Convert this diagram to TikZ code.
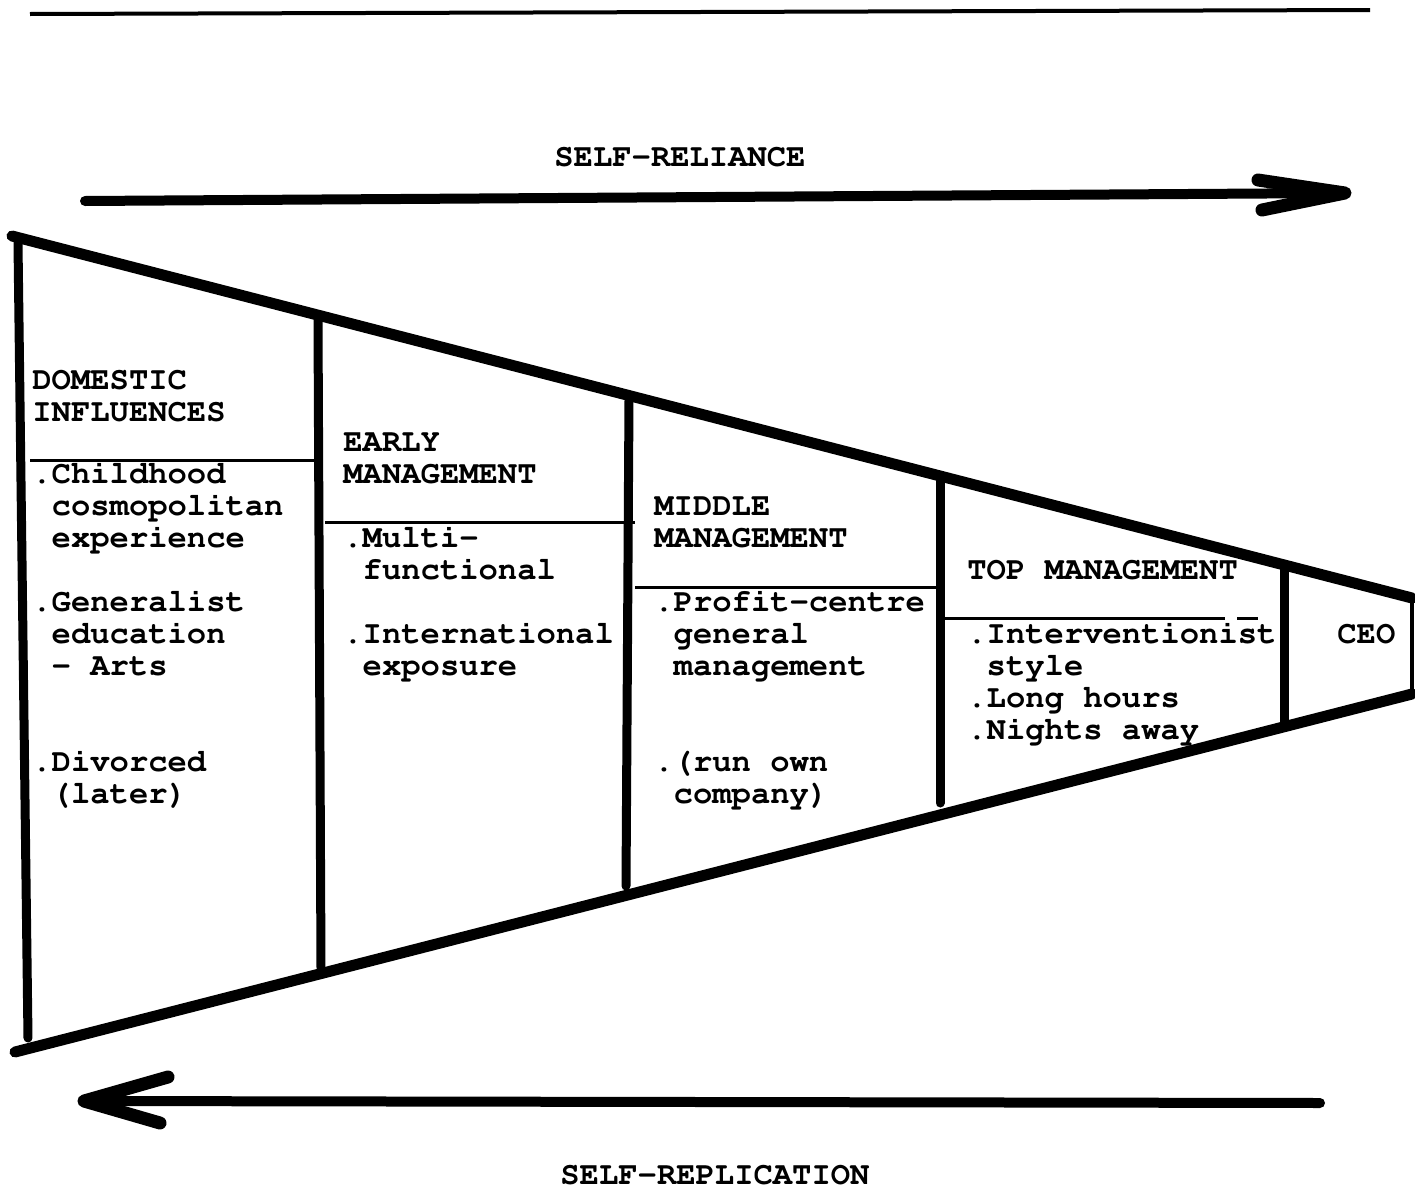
\documentclass[tikz,border=0pt]{standalone}
\usepackage[T1,TU]{fontenc}
\newcommand{\cour}{\fontencoding{T1}\fontfamily{pcr}\fontseries{b}\fontshape{n}}
\tikzset{
  txt/.style={anchor=base west, inner sep=0pt, font=\cour\fontsize{16.1}{16}\selectfont},
  edge/.style={line width=5.5pt, line cap=round, line join=round},
  divider/.style={line width=4.5pt, line cap=round},
  rule/.style={line width=1.5pt},
  shaft/.style={line width=5pt, line cap=round},
  barb/.style={line width=6.5pt, line cap=round, line join=round}
}
\newcommand{\ind}{\hphantom{.}}
\begin{document}
\begin{tikzpicture}[x=0.5pt, y=-0.5pt]
\useasboundingbox (0,0) rectangle (1415,1189);
% top rule
\draw[line width=2pt] (30,14) -- (1370,10);
% top arrow
\coordinate (ta) at (85,201);
\coordinate (tb) at (1345,193);
\coordinate (tu) at (1258,180);
\coordinate (tl) at (1262,210);
\draw[shaft] (ta) -- (tb);
\draw[barb] (tu) -- (tb) -- (tl);
% bottom arrow
\coordinate (ba) at (1320,1103);
\coordinate (bb) at (84,1101);
\coordinate (bu) at (168,1077);
\coordinate (bl) at (160,1123);
\draw[shaft] (ba) -- (bb);
\draw[barb] (bu) -- (bb) -- (bl);
% trapezoid
\coordinate (tl0) at (12,236);
\coordinate (tr0) at (1412,598);
\coordinate (bl0) at (15,1052);
\coordinate (br0) at (1412,694);
\draw[edge] (tl0) -- (tr0);
\draw[edge] (bl0) -- (br0);
\draw[divider] (18,243) -- (28,1038);
\draw[line width=2pt] (1412,598) -- (1412,694);
% dividers
\draw[divider] (318,320) -- (321,968);
\draw[divider] (629,400) -- (626,886);
\draw[divider] (940,481) -- (940,803);
\draw[divider] (1284,566) -- (1284,723);
% thin rules
\draw[rule] (30,460) -- (323,460);
\draw[rule] (325,522) -- (635,522);
\draw[rule] (635,587) -- (936,587);
\draw[rule] (945,618) -- (1225,618);
\draw[rule] (1237,618) -- (1258,618);
% labels
\node[txt] (sr) at (554,166) {SELF-RELIANCE};
\node[txt] (srp) at (560,1184) {SELF-REPLICATION};
% domestic
\node[txt] (d1) at (32,389) {DOMESTIC};
\node[txt] (d2) at (32,421) {INFLUENCES};
\node[txt] (d3) at (32,483) {.Childhood};
\node[txt] (d4) at (32,515) {\ind cosmopolitan};
\node[txt] (d5) at (32,547) {\ind experience};
\node[txt] (d6) at (32,611) {.Generalist};
\node[txt] (d7) at (32,643) {\ind education};
\node[txt] (d8) at (32,675) {\ind - Arts};
\node[txt] (d9) at (32,771) {.Divorced};
\node[txt] (d10) at (32,803) {\ind (later)};
% early
\node[txt] (e1) at (343,451) {EARLY};
\node[txt] (e2) at (343,483) {MANAGEMENT};
\node[txt] (e3) at (343,547) {.Multi-};
\node[txt] (e4) at (343,579) {\ind functional};
\node[txt] (e5) at (343,643) {.International};
\node[txt] (e6) at (343,675) {\ind exposure};
% middle
\node[txt] (m1) at (654,515) {MIDDLE};
\node[txt] (m2) at (654,547) {MANAGEMENT};
\node[txt] (m3) at (654,611) {.Profit-centre};
\node[txt] (m4) at (654,643) {\ind general};
\node[txt] (m5) at (654,675) {\ind management};
\node[txt] (m6) at (654,771) {.(run own};
\node[txt] (m7) at (654,803) {\ind company)};
% top
\node[txt] (t1) at (967,579) {TOP MANAGEMENT};
\node[txt] (t2) at (967,643) {.Interventionist};
\node[txt] (t3) at (967,675) {\ind style};
\node[txt] (t4) at (967,707) {.Long hours};
\node[txt] (t5) at (967,739) {.Nights away};
% ceo
\node[txt] (ceo) at (1337,643) {CEO};
\end{tikzpicture}
\end{document}
